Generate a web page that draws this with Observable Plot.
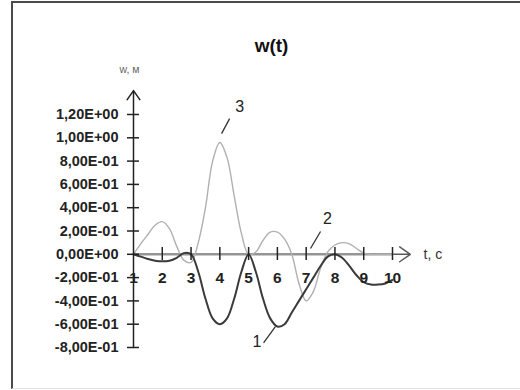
<!DOCTYPE html>
<html>
<head>
<meta charset="utf-8">
<script src="https://cdn.jsdelivr.net/npm/d3@7"></script>
<script src="https://cdn.jsdelivr.net/npm/@observablehq/plot@0.6"></script>
<style>
  body { margin: 0; background: #fff; }
  #wrap { position: relative; width: 520px; height: 390px; }
  #border { position: absolute; left: 11px; top: 1px; right: 0; bottom: 1px;
            border-top: 2px solid #4a4a4a; border-left: 2px solid #4a4a4a; border-bottom: 1px solid #e2e2e2;
            pointer-events: none; }
</style>
</head>
<body>
<div id="wrap"><div id="border"></div></div>
<script>
const title = "w(t)";
const xLabel = "t, c";
const yLabel = "w, м";

const t = [1, 1.25, 1.5, 1.75, 2, 2.25, 2.5, 2.75, 3, 3.25, 3.5, 3.75, 4, 4.25, 4.5, 4.75, 5,
           5.25, 5.5, 5.75, 6, 6.25, 6.5, 6.75, 7, 7.25, 7.5, 7.75, 8, 8.25, 8.5, 8.75, 9,
           9.25, 9.5, 9.75, 10];
const w1 = [0, -0.02, -0.04, -0.055, -0.06, -0.055, -0.03, 0.01, 0, -0.15, -0.38, -0.55, -0.6,
            -0.55, -0.38, -0.15, 0, -0.15, -0.38, -0.55, -0.62, -0.6, -0.5, -0.4, -0.3, -0.2,
            -0.1, -0.02, 0, -0.03, -0.1, -0.18, -0.24, -0.26, -0.26, -0.25, -0.22];
const w2 = [0, 0, 0, 0, 0, 0, 0, 0, 0, 0, 0, 0, 0, 0, 0, 0, 0, 0, 0, 0, 0, 0, 0, 0, 0, 0, 0,
            0, 0, 0, 0, 0, 0, 0, 0, 0, 0];
const w3 = [0, 0.09, 0.17, 0.25, 0.28, 0.22, 0.07, -0.05, -0.07, 0.1, 0.4, 0.8, 0.96, 0.83, 0.5,
            0.18, 0, 0.02, 0.12, 0.19, 0.19, 0.13, 0, -0.25, -0.4, -0.32, -0.12, 0.02, 0.08, 0.1,
            0.09, 0.05, 0.01, 0, 0, 0, 0];

const xTicks = [1, 2, 3, 4, 5, 6, 7, 8, 9, 10];
const yTicks = [1.2, 1.0, 0.8, 0.6, 0.4, 0.2, 0, -0.2, -0.4, -0.6, -0.8];
const yTickLabels = ["1,20E+00", "1,00E+00", "8,00E-01", "6,00E-01", "4,00E-01", "2,00E-01",
                     "0,00E+00", "-2,00E-01", "-4,00E-01", "-6,00E-01", "-8,00E-01"];

// curve number labels and their leader lines (data coordinates)
const curveLabels = ["1", "2", "3"];
const labelT = [5.29, 7.74, 4.69];
const labelW = [-0.755, 0.307, 1.265];
const leaderT1 = [5.52, 7.50, 4.34];
const leaderW1 = [-0.76, 0.196, 1.165];
const leaderT2 = [5.93, 7.15, 4.06];
const leaderW2 = [-0.62, 0.05, 1.036];

const s1 = t.map((d, i) => ({t: d, w: w1[i]}));
const s2 = t.map((d, i) => ({t: d, w: w2[i]}));
const s3 = t.map((d, i) => ({t: d, w: w3[i]}));
const labels = curveLabels.map((d, i) => ({text: d, t: labelT[i], w: labelW[i]}));
const leaders = curveLabels.map((d, i) => ({t1: leaderT1[i], w1: leaderW1[i], t2: leaderT2[i], w2: leaderW2[i]}));
const yLab = yTicks.map((d, i) => ({y: d, text: yTickLabels[i]}));

const font = "'Liberation Sans', Arial, sans-serif";

const chart = Plot.plot({
  width: 520,
  height: 390,
  marginLeft: 133,
  marginRight: 128,
  marginTop: 114,
  marginBottom: 43,
  style: {fontFamily: font, background: "transparent", overflow: "visible"},
  x: {domain: [1, 10], axis: null},
  y: {domain: [-0.8, 1.2], axis: null},
  marks: [
    // x axis with arrow
    Plot.arrow([0], {x1: () => 1, y1: () => 0, x2: () => 10.62, y2: () => 0,
      stroke: "#5a5a5a", strokeWidth: 1.5, headLength: 13, headAngle: 70}),
    // curve 2 lies along the axis
    Plot.line(s2, {x: "t", y: "w", stroke: "#959595", strokeWidth: 2.6, curve: "catmull-rom"}),
    // curve 3
    Plot.line(s3, {x: "t", y: "w", stroke: "#b0b0b0", strokeWidth: 1.4, curve: "catmull-rom"}),
    // curve 1
    Plot.line(s1, {x: "t", y: "w", stroke: "#3a3a3a", strokeWidth: 2, curve: "catmull-rom"}),
    // y axis with arrow
    Plot.arrow([0], {x1: () => 1, y1: () => -0.8, x2: () => 1, y2: () => 1.405,
      stroke: "#222", strokeWidth: 1.5, headLength: 11, headAngle: 70}),
    // y ticks (crossing the axis)
    Plot.tickY(yTicks, {y: d => d, stroke: "#222", strokeWidth: 1.5, insetLeft: -6, insetRight: 253}),
    // x ticks (crossing the axis)
    Plot.tickX(xTicks.slice(1), {x: d => d, stroke: "#222", strokeWidth: 1.5, insetTop: 133, insetBottom: 87}),
    // x tick labels
    Plot.text(xTicks, {x: d => d, y: () => 0, dy: 24, text: d => String(d),
      fontSize: 15.5, fontWeight: "bold", fill: "#222"}),
    // y tick labels
    Plot.text(yLab, {x: () => 1, y: "y", dx: -15, text: "text", textAnchor: "end",
      fontSize: 14.5, fontWeight: "bold", fill: "#222"}),
    // curve labels and leaders
    Plot.link(leaders, {x1: "t1", y1: "w1", x2: "t2", y2: "w2", stroke: "#333", strokeWidth: 1.3}),
    Plot.text(labels, {x: "t", y: "w", text: "text", fontSize: 16, fill: "#222"}),
    // axis titles
    Plot.text([xLabel], {x: () => 10, y: () => 0, dx: 31, text: d => d, textAnchor: "start",
      fontSize: 14, fill: "#333"}),
    Plot.text([yLabel], {x: () => 1, y: () => 1.2, dx: -4, dy: -45, text: d => d,
      fontSize: 10.5, fill: "#666"}),
    // title
    Plot.text([title], {frameAnchor: "top", lineAnchor: "middle", dx: 8.5, dy: -69, text: d => d,
      fontSize: 19, fontWeight: "bold", fill: "#111"})
  ]
});
document.getElementById("wrap").prepend(chart);
</script>
</body>
</html>
